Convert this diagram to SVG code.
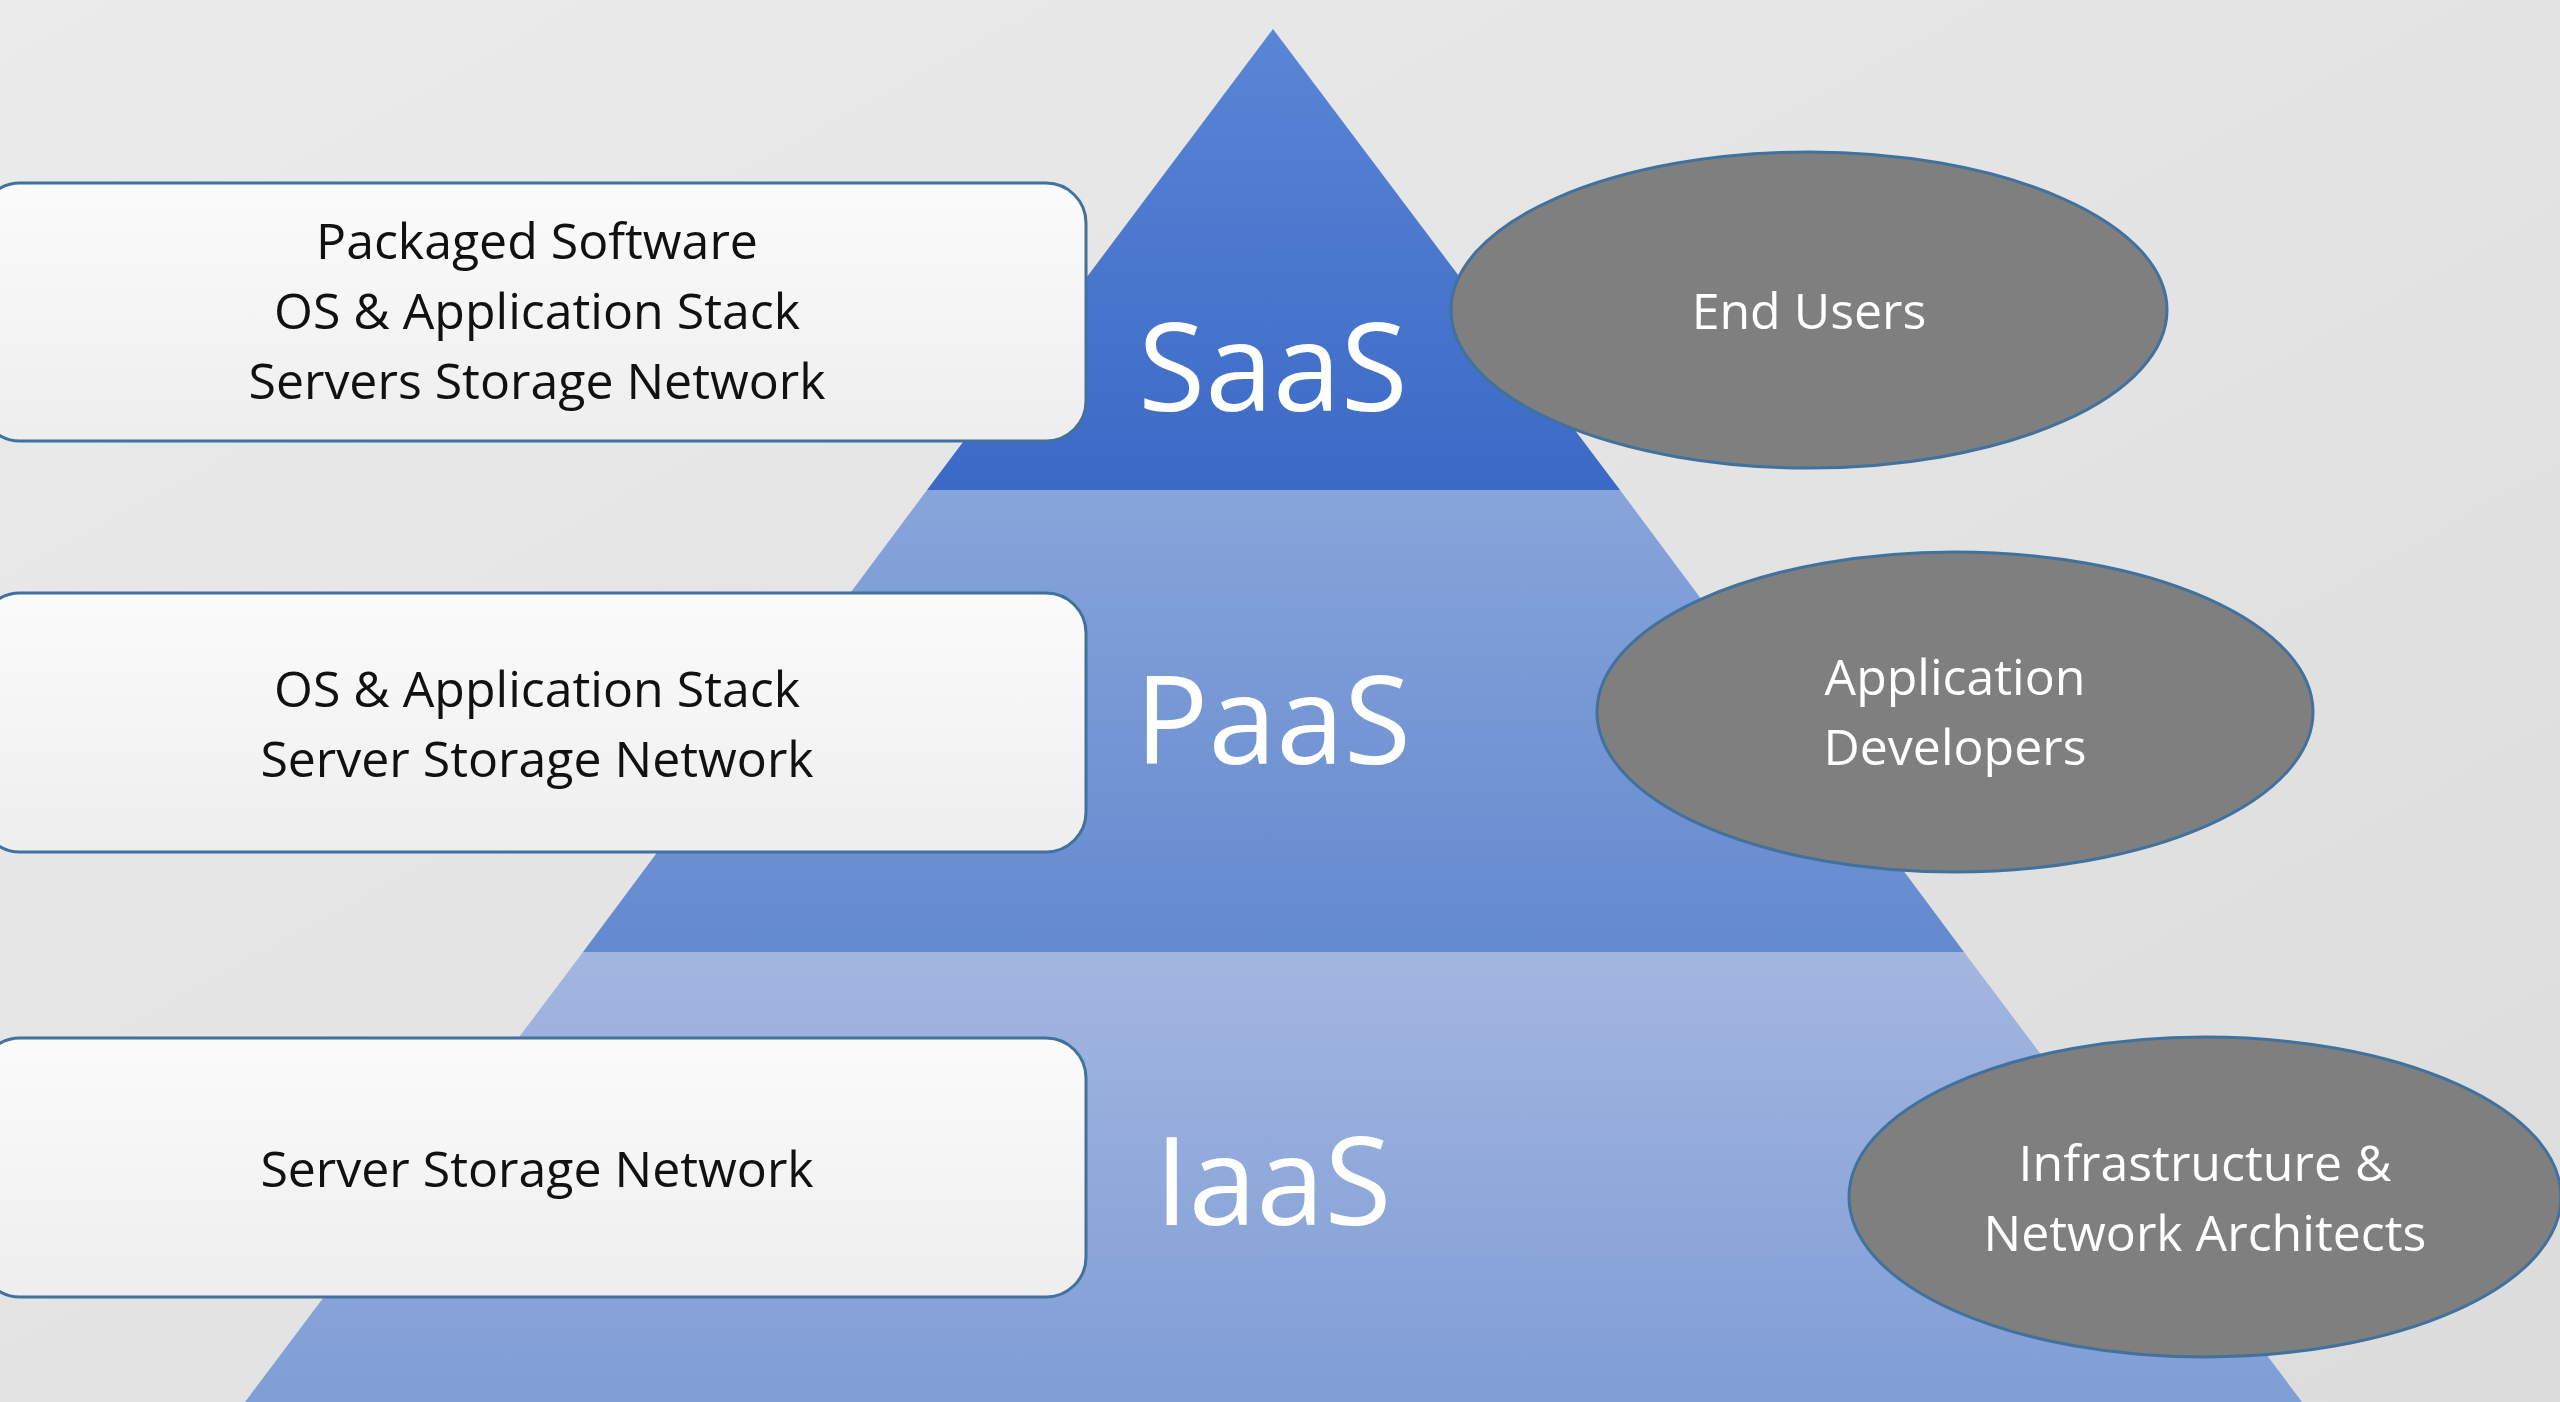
<svg xmlns="http://www.w3.org/2000/svg" width="2560" height="1402" viewBox="0 0 2560 1402">
<defs>
<linearGradient id="bg" x1="0" y1="0" x2="1" y2="1"><stop offset="0" stop-color="#ebebeb"/><stop offset="1" stop-color="#dcdcdc"/></linearGradient>
<linearGradient id="gs" x1="0" y1="0" x2="0" y2="1"><stop offset="0" stop-color="#5a86d6"/><stop offset="1" stop-color="#3b69c6"/></linearGradient>
<linearGradient id="gp" x1="0" y1="0" x2="0" y2="1"><stop offset="0" stop-color="#88a5da"/><stop offset="1" stop-color="#6389cf"/></linearGradient>
<linearGradient id="gi" x1="0" y1="0" x2="0" y2="1"><stop offset="0" stop-color="#a3b6e0"/><stop offset="1" stop-color="#7f9dd6"/></linearGradient>
<linearGradient id="gb" x1="0" y1="0" x2="0" y2="1"><stop offset="0" stop-color="#fbfbfb"/><stop offset="1" stop-color="#eeeeee"/></linearGradient>
</defs>
<style>
.box{fill:url(#gb);stroke:#41719c;stroke-width:3}
.ell{fill:#7f7f7f;stroke:#41719c;stroke-width:3}
.bt{font-family:"Open Sans","Liberation Sans",sans-serif;font-size:50px;font-weight:500;fill:#111;text-anchor:middle}
.et{font-family:"Open Sans","Liberation Sans",sans-serif;font-size:50px;font-weight:500;fill:#fff;text-anchor:middle}
.big{font-family:"Open Sans","Liberation Sans",sans-serif;font-size:122px;font-weight:500;fill:#fff;text-anchor:middle}
</style>
<rect width="2560" height="1402" fill="url(#bg)"/>
<g id="pyramid">
<polygon points="1273,29 1620,490 927,490" fill="url(#gs)"/>
<polygon points="927,490 1620,490 1964,952 583,952" fill="url(#gp)"/>
<polygon points="583,952 1964,952 2302,1402 245,1402" fill="url(#gi)"/>
<text class="big" x="1273" y="411">SaaS</text>
<text class="big" x="1273" y="764">PaaS</text>
<text class="big" x="1273" y="1225">IaaS</text>
</g>
<g id="box1"><rect class="box" x="-20" y="183" width="1106" height="258" rx="40"/>
<text class="bt" x="537" y="259">Packaged Software</text><text class="bt" x="537" y="329">OS &amp; Application Stack</text><text class="bt" x="537" y="399">Servers Storage Network</text></g>
<g id="box2"><rect class="box" x="-20" y="593" width="1106" height="259" rx="40"/>
<text class="bt" x="537" y="707">OS &amp; Application Stack</text><text class="bt" x="537" y="777">Server Storage Network</text></g>
<g id="box3"><rect class="box" x="-20" y="1038" width="1106" height="259" rx="40"/>
<text class="bt" x="537" y="1187">Server Storage Network</text></g>
<g id="endusers"><ellipse class="ell" cx="1809" cy="310" rx="358" ry="158"/><text class="et" x="1809" y="329">End Users</text></g>
<g id="appdev"><ellipse class="ell" cx="1955" cy="712" rx="358" ry="160"/><text class="et" x="1955" y="695">Application</text><text class="et" x="1955" y="765">Developers</text></g>
<g id="infra"><ellipse class="ell" cx="2205" cy="1197" rx="356" ry="160"/><text class="et" x="2205" y="1181">Infrastructure &amp;</text><text class="et" x="2205" y="1251">Network Architects</text></g>
<g id="connectors"/>
</svg>
